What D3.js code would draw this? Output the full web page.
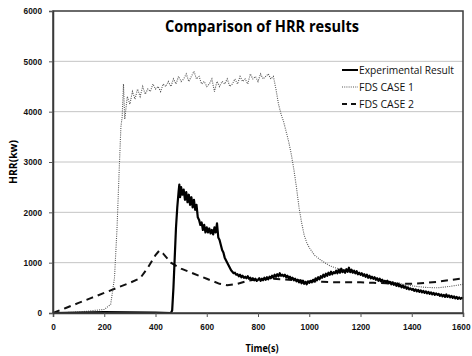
<!DOCTYPE html>
<html><head><meta charset="utf-8">
<script src="https://cdn.jsdelivr.net/npm/d3@7"></script>
<style>body{margin:0;background:#fff}svg{display:block}</style>
</head><body>
<svg id="c" width="472" height="356"></svg>
<script>
const title = "Comparison of HRR results";
const xLabel = "Time(s)";
const yLabel = "HRR(kw)";
const xTicks = [0,200,400,600,800,1000,1200,1400,1600];
const yTicks = [0,1000,2000,3000,4000,5000,6000];
const seriesNames = ["Experimental Result","FDS CASE 1","FDS CASE 2"];

const expT = [0,100,200,300,400,460,465,470,475,480,485,490,493,496,500,505,510,515,520,525,530,535,540,545,550,555,560,565,570,575,580,585,590,595,600,605,610,615,620,625,630,635,640,645,650,655,660,665,670,675,680,685,690,695,
700,705,710,715,720,725,730,735,740,745,750,755,760,765,770,775,780,785,790,795,800,
805,810,815,820,825,830,835,840,845,850,855,860,865,870,875,880,885,890,895,900,
905,910,915,920,925,930,935,940,945,950,955,960,965,970,975,980,985,990,995,1000,
1005,1010,1015,1020,1025,1030,1035,1040,1045,1050,1055,1060,1065,1070,1075,1080,1085,1090,1095,1100,
1105,1110,1115,1120,1125,1130,1135,1140,1145,1150,1155,1160,1165,1170,1175,1180,1185,1190,1195,1200,
1205,1210,1215,1220,1225,1230,1235,1240,1245,1250,1255,1260,1265,1270,1275,1280,1285,1290,1295,1300,
1305,1310,1315,1320,1325,1330,1335,1340,1345,1350,1355,1360,1365,1370,1375,1380,1385,1390,1395,1400,
1405,1410,1415,1420,1425,1430,1435,1440,1445,1450,1455,1460,1465,1470,1475,1480,1485,1490,1495,1500,
1505,1510,1515,1520,1525,1530,1535,1540,1545,1550,1555,1560,1565,1570,1575,1580,1585,1590,1595,1600];
const expV = [0,10,20,15,10,0,50,500,1100,1700,2100,2400,2550,2300,2500,2350,2450,2250,2400,2200,2350,2150,2300,2100,2250,2050,2150,1900,1850,1750,1800,1650,1750,1600,1700,1600,1680,1580,1650,1560,1700,1600,1780,1500,1450,1350,1250,1200,1100,1050,1000,950,900,850,
820,790,800,760,770,730,760,710,740,700,720,690,730,680,700,660,690,650,680,640,660,
690,640,680,650,700,660,710,670,720,690,740,700,760,720,770,730,790,740,760,730,
760,710,740,690,720,670,700,650,680,630,660,610,650,590,640,580,620,570,630,600,
640,610,660,630,690,650,710,670,730,700,760,720,780,740,800,760,820,770,810,790,
840,790,860,800,880,810,850,800,870,820,900,810,860,800,840,790,830,770,800,760,
790,740,770,720,760,700,740,690,720,680,710,660,690,640,680,630,660,620,640,610,
640,590,620,570,610,560,590,540,580,530,560,510,550,500,530,480,510,470,490,460,
480,440,470,430,460,420,450,410,440,400,430,390,420,380,410,370,400,360,390,360,
380,340,370,330,360,320,370,320,350,310,340,300,330,290,320,280,310,280,300,290];

const fds1T = [0,100,200,225,240,250,258,265,270,275,280,290,300,310,320,330,340,350,360,370,380,390,400,410,420,430,440,450,460,470,480,490,500,510,520,530,540,550,560,570,580,590,600,610,620,630,640,650,660,670,680,690,700,710,720,730,740,750,760,770,780,790,800,810,820,830,840,850,860,870,880,890,900,910,920,930,940,950,960,970,980,990,1000,1020,1040,1060,1080,1100,1140,1200,1250,1300,1350,1400,1450,1500,1550,1600];
const fds1V = [0,20,70,170,700,1700,2800,3700,3900,4550,3850,4300,4150,4400,4250,4450,4300,4500,4350,4450,4400,4550,4450,4500,4400,4550,4500,4600,4500,4650,4550,4700,4600,4650,4750,4600,4700,4800,4650,4700,4550,4600,4500,4550,4650,4400,4600,4500,4600,4550,4650,4500,4550,4650,4550,4700,4600,4650,4550,4750,4650,4700,4600,4750,4650,4700,4750,4650,4700,4450,4150,3950,3800,3600,3400,3150,2850,2500,2100,1800,1550,1400,1300,1150,1070,1000,940,900,850,760,690,640,590,540,510,500,530,570];

const fds2T = [0,50,100,150,200,250,300,340,370,400,415,430,460,500,550,600,650,680,720,760,800,850,900,950,1000,1050,1100,1150,1200,1250,1300,1350,1400,1450,1500,1550,1600];
const fds2V = [0,100,200,300,400,500,600,690,900,1150,1240,1180,1000,880,780,680,580,550,580,640,670,680,670,650,630,620,610,610,610,600,590,580,580,595,620,655,690];

const svg = d3.select("#c");
const W = 472, H = 356;
const m = {l:53, r:9, t:11, b:43};
const x = d3.scaleLinear().domain([0,1600]).range([m.l, W-m.r]);
const y = d3.scaleLinear().domain([0,6000]).range([H-m.b, m.t]);

svg.append("g").selectAll("line").data(yTicks.slice(1,-1)).join("line")
  .attr("x1", x(0)).attr("x2", x(1600))
  .attr("y1", d=>y(d)).attr("y2", d=>y(d))
  .attr("stroke", "#c4c4c4").attr("stroke-width", 1);

const line = d3.line().x(d=>x(d[0])).y(d=>y(d[1]));
const zip = (a,b)=>a.map((t,i)=>[t,b[i]]);

svg.append("path").datum(zip(fds2T,fds2V)).attr("d", line)
  .attr("fill","none").attr("stroke","#111").attr("stroke-width",2).attr("stroke-dasharray","7,5");
svg.append("path").datum(zip(fds1T,fds1V)).attr("d", line)
  .attr("fill","none").attr("stroke","#555").attr("stroke-width",1.1).attr("stroke-dasharray","1,1.2");
svg.append("path").datum(zip(expT,expV)).attr("d", line)
  .attr("fill","none").attr("stroke","#000").attr("stroke-width",2.2).attr("stroke-linejoin","round");

svg.append("rect").attr("x", x(0)).attr("y", y(6000))
  .attr("width", x(1600)-x(0)).attr("height", y(0)-y(6000))
  .attr("fill","none").attr("stroke","#3a3a3a").attr("stroke-width",1.5);

const tickFont = g => g.selectAll("text")
  .attr("font-family","'Liberation Sans', Arial, sans-serif")
  .attr("font-weight","bold").attr("font-size","9px").attr("fill","#111")
  .attr("textLength", function(){return this.textContent.length*4.6;})
  .attr("lengthAdjust","spacingAndGlyphs");

const xa = svg.append("g").attr("transform",`translate(0,${y(0)})`)
  .call(d3.axisBottom(x).tickValues(xTicks).tickSize(4).tickPadding(7).tickFormat(d3.format("d")));
xa.select(".domain").attr("stroke","#3a3a3a").attr("stroke-width",1.5);
xa.selectAll(".tick line").attr("stroke","#555");
tickFont(xa);
xa.selectAll(".tick text").filter(d=>d===1600).attr("text-anchor","end").attr("x",7);

const ya = svg.append("g").attr("transform",`translate(${x(0)},0)`)
  .call(d3.axisLeft(y).tickValues(yTicks).tickSize(4).tickPadding(7).tickFormat(d3.format("d")));
ya.select(".domain").attr("stroke","#3a3a3a").attr("stroke-width",1.5);
ya.selectAll(".tick line").attr("stroke","#555");
tickFont(ya);

const lab = "'Open Sans', 'Liberation Sans', sans-serif";
svg.append("text").text(title).attr("x",262).attr("y",32).attr("text-anchor","middle")
  .attr("font-family",lab).attr("font-weight","bold").attr("font-size","16px").attr("fill","#000")
  .attr("textLength",194).attr("lengthAdjust","spacingAndGlyphs");
svg.append("text").text(xLabel).attr("x",262).attr("y",352).attr("text-anchor","middle")
  .attr("font-family",lab).attr("font-weight","bold").attr("font-size","11px").attr("fill","#000")
  .attr("textLength",33).attr("lengthAdjust","spacingAndGlyphs");
svg.append("text").text(yLabel).attr("transform","translate(17,162) rotate(-90)").attr("text-anchor","middle")
  .attr("font-family",lab).attr("font-weight","bold").attr("font-size","11px").attr("fill","#000")
  .attr("textLength",44).attr("lengthAdjust","spacingAndGlyphs");

const legY = [70, 87, 104];
const legW = [95, 55, 55];
const legStyles = [
  {c:"#000", w:2, d:null},
  {c:"#555", w:1.1, d:"1,1.2"},
  {c:"#111", w:2, d:"5,4"}
];
const lg = svg.append("g");
seriesNames.forEach((n,i)=>{
  lg.append("line").attr("x1",342).attr("x2",358).attr("y1",legY[i]).attr("y2",legY[i])
    .attr("stroke",legStyles[i].c).attr("stroke-width",legStyles[i].w)
    .attr("stroke-dasharray",legStyles[i].d);
  lg.append("text").text(n).attr("x",359).attr("y",legY[i]+4)
    .attr("font-family",lab).attr("font-size","11px").attr("fill","#111")
    .attr("textLength",legW[i]).attr("lengthAdjust","spacingAndGlyphs");
});
</script>
</body></html>
